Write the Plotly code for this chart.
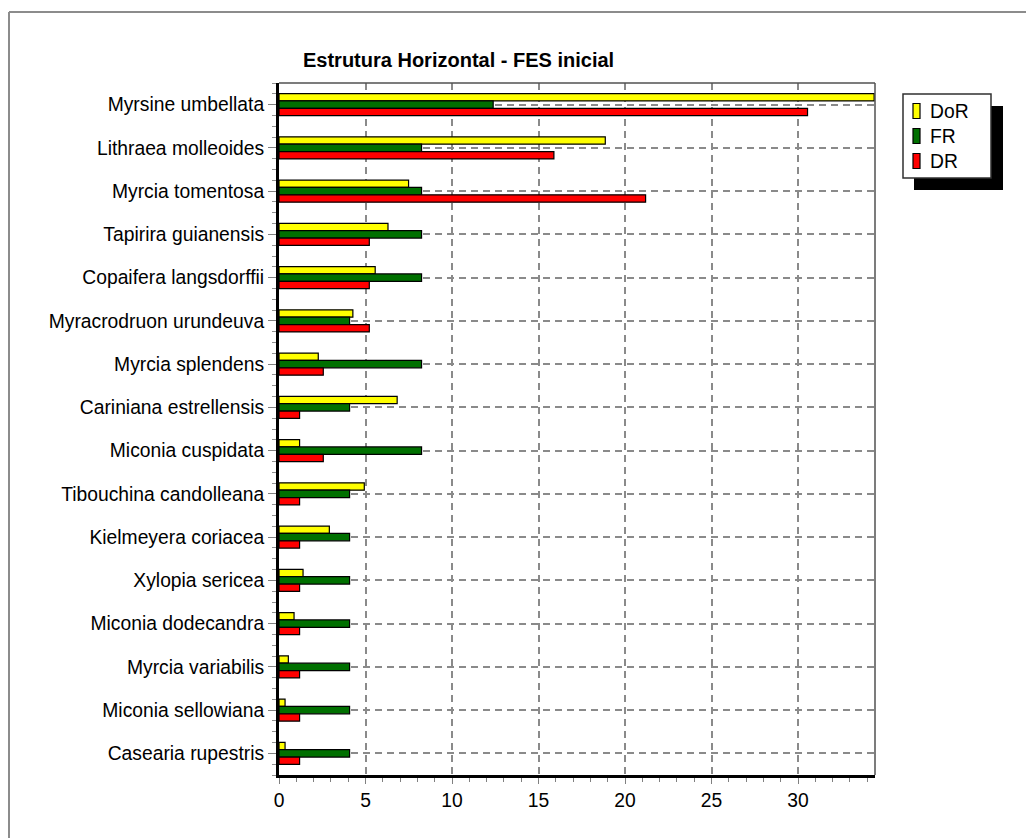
import plotly.graph_objects as go

# Species (top to bottom) and relative parameters (%)
species = [
    "Myrsine umbellata", "Lithraea molleoides", "Myrcia tomentosa",
    "Tapirira guianensis", "Copaifera langsdorffii", "Myracrodruon urundeuva",
    "Myrcia splendens", "Cariniana estrellensis", "Miconia cuspidata",
    "Tibouchina candolleana", "Kielmeyera coriacea", "Xylopia sericea",
    "Miconia dodecandra", "Myrcia variabilis", "Miconia sellowiana",
    "Casearia rupestris",
]
dor = [34.4, 18.86, 7.49, 6.30, 5.56, 4.27, 2.27, 6.83, 1.19, 4.93, 2.91, 1.39, 0.87, 0.54, 0.35, 0.35]
fr = [12.38, 8.24, 8.24, 8.24, 8.24, 4.08, 8.24, 4.08, 8.24, 4.08, 4.08, 4.08, 4.08, 4.08, 4.08, 4.08]
dr = [30.55, 15.89, 21.19, 5.22, 5.22, 5.22, 2.56, 1.19, 2.56, 1.19, 1.19, 1.19, 1.19, 1.19, 1.19, 1.19]

series = [("DoR", dor, "#FFFF00"), ("FR", fr, "#007000"), ("DR", dr, "#FF0000")]

W, H = 1026, 838
L, R, T, B = 279, 875, 83, 775
FONT = "Liberation Sans, Arial, sans-serif"
LABEL_SIZE = 19.3


def px(x):
    return (x - L) / (R - L)


def py(y):
    return (B - y) / (B - T)


idx = list(range(len(species)))
fig = go.Figure()
for name, vals, color in series:
    fig.add_trace(go.Bar(
        name=name, x=vals, y=idx, orientation="h",
        marker=dict(color=color, line=dict(color="black", width=1.2)),
        showlegend=False,
    ))

grid = dict(gridcolor="#8a8a8a", gridwidth=1.5, griddash="7px,5px")

fig.update_layout(
    width=W, height=H,
    margin=dict(l=L, r=W - R, t=T, b=H - B, pad=0),
    paper_bgcolor="white", plot_bgcolor="white",
    barmode="group", bargap=0.49, bargroupgap=0,
    font=dict(family=FONT, size=18, color="black"),
    xaxis=dict(
        range=[0, 34.45], tick0=0, dtick=5, showgrid=True, **grid,
        zeroline=False, showline=True, linecolor="black", linewidth=3,
        ticks="outside", ticklen=6, tickwidth=1.2, tickcolor="#808080",
        minor=dict(dtick=1, ticks="outside", ticklen=4, tickcolor="#808080", showgrid=False),
        tickfont=dict(size=LABEL_SIZE, family=FONT, color="black"),
    ),
    yaxis=dict(
        range=[15.5, -0.5], tickmode="array", tickvals=idx, ticktext=species,
        showgrid=True, **grid, zeroline=False,
        showline=True, linecolor="black", linewidth=3,
        ticks="outside", ticklen=8, tickwidth=1.2, tickcolor="#808080",
        minor=dict(tick0=0, dtick=0.25, ticks="outside", ticklen=4, tickcolor="#909090", showgrid=False),
        tickfont=dict(size=LABEL_SIZE, family=FONT, color="black"),
    ),
)

shapes = [
    # outer frame of the chart panel
    dict(type="line", xref="paper", yref="paper", x0=px(9), x1=px(1040), y0=py(12), y1=py(12),
         line=dict(color="#8c8c8c", width=2)),
    dict(type="line", xref="paper", yref="paper", x0=px(9), x1=px(9), y0=py(12), y1=py(850),
         line=dict(color="#8c8c8c", width=2)),
    # thin border along top and right of plot area
    dict(type="line", xref="paper", yref="paper", x0=0, x1=1, y0=1, y1=1,
         line=dict(color="#505050", width=1.5)),
    dict(type="line", xref="paper", yref="paper", x0=1, x1=1, y0=0, y1=1,
         line=dict(color="#505050", width=1.5)),
    # legend shadow and box
    dict(type="rect", xref="paper", yref="paper", x0=px(914), x1=px(1003), y0=py(190), y1=py(106),
         fillcolor="black", line=dict(width=0)),
    dict(type="rect", xref="paper", yref="paper", x0=px(903), x1=px(991), y0=py(178), y1=py(94),
         fillcolor="white", line=dict(color="#303030", width=1.5)),
]

annotations = [
    dict(text="<b>Estrutura Horizontal - FES inicial</b>", xref="paper", yref="paper",
         x=px(458), y=py(60), xanchor="center", yanchor="middle", showarrow=False,
         font=dict(size=20, family=FONT, color="black")),
]

legend_y = [111, 136, 161]
for (name, _, color), ly in zip(series, legend_y):
    shapes.append(dict(type="rect", xref="paper", yref="paper",
                       x0=px(913), x1=px(920), y0=py(ly + 7.5), y1=py(ly - 7.5),
                       fillcolor=color, line=dict(color="black", width=1.2)))
    annotations.append(dict(text=name, xref="paper", yref="paper", x=px(928), y=py(ly),
                            xanchor="left", yanchor="middle", showarrow=False,
                            font=dict(size=LABEL_SIZE, family=FONT, color="black")))

fig.update_layout(shapes=shapes, annotations=annotations)
fig.write_html("out.html")
